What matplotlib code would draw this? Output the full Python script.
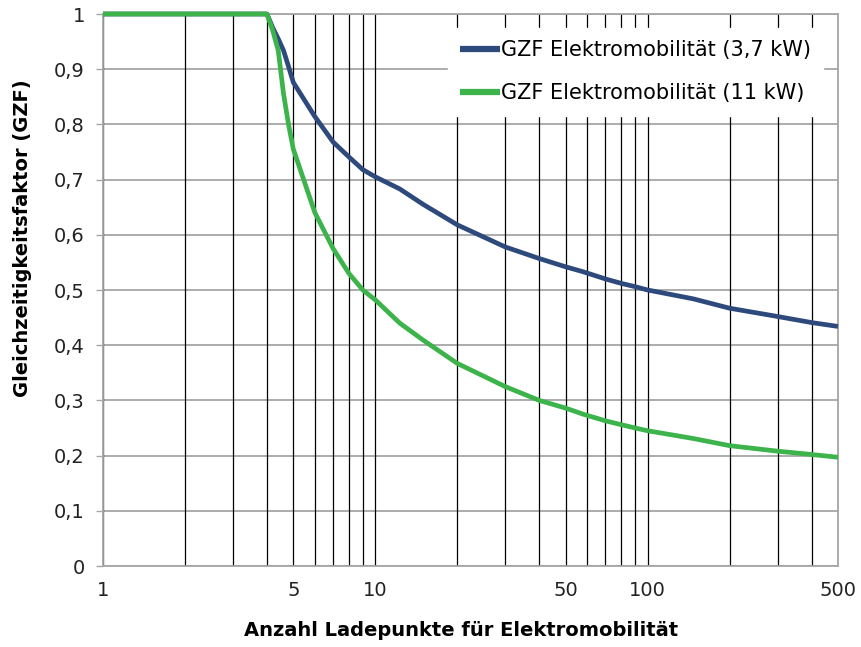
import matplotlib
matplotlib.use("Agg")
import matplotlib.pyplot as plt
from matplotlib.ticker import FixedLocator, FuncFormatter

plt.rcParams['font.family'] = ['DejaVu Sans']

# Anzahl Ladepunkte
n = [1, 2, 3, 4, 4.2, 4.4, 4.6, 4.8, 5, 6, 7, 8, 9, 10, 12.3, 15, 20, 30, 40, 50, 58, 70, 80, 90, 100,
     147, 200, 300, 400, 500]
# GZF 3,7 kW
gzf_37 = [1, 1, 1, 1, 0.975, 0.955, 0.934, 0.905, 0.876, 0.814, 0.768, 0.741, 0.718, 0.705, 0.683, 0.655,
          0.618, 0.578, 0.557, 0.542, 0.533, 0.52, 0.512, 0.506, 0.50,
          0.484, 0.467, 0.452, 0.441, 0.434]
# GZF 11 kW
gzf_11 = [1, 1, 1, 1, 0.97, 0.934, 0.856, 0.80, 0.755, 0.64, 0.575, 0.53, 0.50, 0.482, 0.44, 0.409,
          0.367, 0.325, 0.30, 0.286, 0.275, 0.263, 0.256, 0.25, 0.245,
          0.231, 0.218, 0.208, 0.202, 0.197]

x_labels = [1, 5, 10, 50, 100, 500]
x_grid = [1, 2, 3, 4, 5, 6, 7, 8, 9, 10, 20, 30, 40, 50, 60, 70, 80, 90, 100, 200, 300, 400, 500]
y_ticks = [0, 0.1, 0.2, 0.3, 0.4, 0.5, 0.6, 0.7, 0.8, 0.9, 1]

fig = plt.figure(figsize=(8.61, 6.47), dpi=100)
ax = fig.add_axes([103/861, 1-566/647, (838-103)/861, (566-14)/647])

ax.set_xscale('log')
ax.set_xlim(1, 500)
ax.set_ylim(0, 1)

# grid
for v in y_ticks:
    ax.axhline(v, color='#a6a6a6', lw=1.3, zorder=1)
for v in x_grid:
    ax.axvline(v, color='black', lw=0.9, zorder=1)

ax.plot(n, gzf_37, color='#2e4a7c', lw=3.4, label='GZF Elektromobilität (3,7 kW)', zorder=3, clip_on=False,
        solid_capstyle='butt', solid_joinstyle='round')
ax.plot(n, gzf_11, color='#3cb44b', lw=3.4, label='GZF Elektromobilität (11 kW)', zorder=4, clip_on=False,
        solid_capstyle='butt', solid_joinstyle='round')

ax.xaxis.set_major_locator(FixedLocator(x_labels))
ax.xaxis.set_minor_locator(FixedLocator([]))
ax.xaxis.set_major_formatter(FuncFormatter(lambda v, p: '%d' % v))
ax.set_yticks(y_ticks)
ax.yaxis.set_major_formatter(FuncFormatter(lambda v, p: ('%g' % round(v, 1)).replace('.', ',')))

ax.tick_params(axis='x', length=0, labelsize=14, pad=11, colors='#222222')
ax.tick_params(axis='y', length=5, width=1, color='#a6a6a6', labelsize=14, pad=8, labelcolor='#222222')

for s in ax.spines.values():
    s.set_color('#a6a6a6')
    s.set_linewidth(1.3)

ax.set_xlabel('Anzahl Ladepunkte für Elektromobilität', fontsize=14, fontweight='bold')
ax.xaxis.set_label_coords(0.487, -0.1)
ax.set_ylabel('Gleichzeitigkeitsfaktor (GZF)', fontsize=14, fontweight='bold')
ax.yaxis.set_label_coords(-0.097, 0.594)

leg = ax.legend(loc='upper right', bbox_to_anchor=(0.98, 0.975), borderaxespad=0, fontsize=15, frameon=True,
                fancybox=False, handlelength=1.9, handletextpad=0.05, borderpad=0.6, labelspacing=1.1)
leg.get_frame().set_facecolor('white')
leg.get_frame().set_edgecolor('white')
leg.get_frame().set_alpha(1)
leg.set_zorder(5)
for h in leg.get_lines():
    h.set_linewidth(4.5)

fig.savefig('out.png', dpi=100)
